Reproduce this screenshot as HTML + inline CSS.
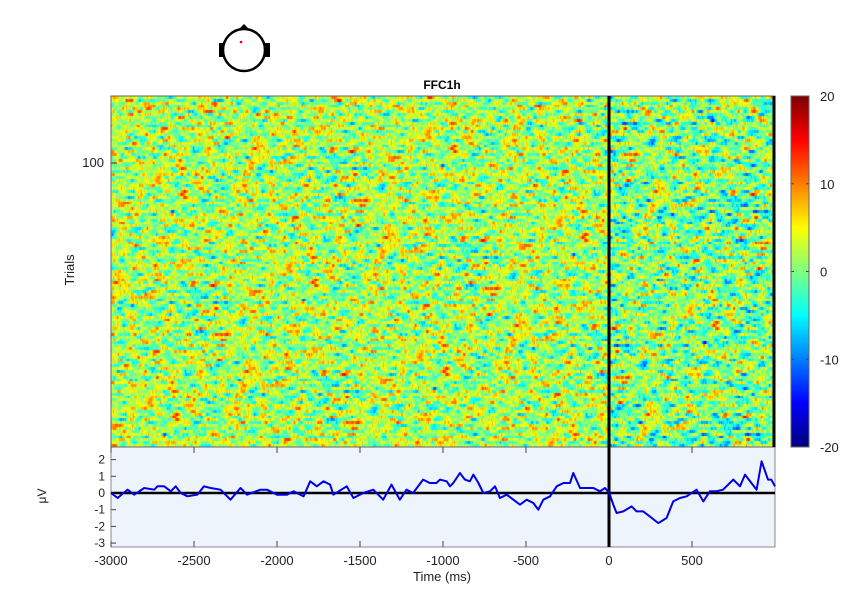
<!DOCTYPE html>
<html><head><meta charset="utf-8">
<style>
body{margin:0;background:#fff;width:856px;height:616px;overflow:hidden;font-family:"Liberation Sans",sans-serif;}
#wrap{position:relative;width:856px;height:616px;}
canvas{position:absolute;}
</style></head>
<body>
<div id="wrap">
<canvas id="heat" width="664" height="351" style="left:111px;top:96px"></canvas>
<canvas id="cbar" width="18" height="351" style="left:791px;top:96px"></canvas>
<svg id="svg" width="856" height="616" style="position:absolute;left:0;top:0"></svg>
</div>
<script>
// ERP average (µV) at times (ms)
const erpTimes=[-3000,-2960,-2900,-2860,-2800,-2740,-2720,-2680,-2640,-2610,-2580,-2540,-2480,-2440,-2400,-2340,-2280,-2220,-2180,-2100,-2060,-2000,-1940,-1900,-1840,-1800,-1760,-1720,-1680,-1660,-1580,-1540,-1480,-1420,-1360,-1310,-1260,-1220,-1180,-1120,-1080,-1040,-1018,-978,-958,-938,-898,-868,-838,-817,-787,-757,-717,-687,-657,-616,-576,-536,-496,-456,-426,-396,-355,-315,-275,-235,-215,-175,-134,-94,-54,-24,2,26,46,86,136,166,206,246,297,347,387,428,468,528,568,608,644,687,749,789,819,858,889,919,958,978,1000];
const erpValues=[0,-0.3,0.2,-0.1,0.3,0.2,0.4,0.4,0.1,0.4,0,-0.2,-0.1,0.4,0.3,0.2,-0.4,0.3,-0.1,0.2,0.2,-0.1,-0.1,0.1,-0.2,0.7,0.4,0.7,0.5,-0.1,0.4,-0.3,0,0.2,-0.4,0.5,-0.4,0.2,0,0.8,0.6,0.6,0.8,0.7,0.4,0.6,1.2,0.8,0.7,1.1,0.6,0,0.1,0.4,-0.3,-0.1,-0.4,-0.7,-0.4,-0.6,-1.0,-0.4,-0.2,0.4,0.6,0.6,1.2,0.3,0.3,0.3,0.1,0.3,0,-0.7,-1.2,-1.1,-0.8,-1.1,-1.1,-1.4,-1.8,-1.5,-0.5,-0.3,-0.2,0.2,-0.5,0.1,0.1,0.2,0.8,0.4,1.1,0.6,0.2,1.9,0.8,0.8,0.4];
const xTicks=[-3000,-2500,-2000,-1500,-1000,-500,0,500];
const erpYTicks=[-3,-2,-1,0,1,2];
const trialTicks=[100];
const cbarTicks=[-20,-10,0,10,20];
const nTrials=123;

const X0=111,X1=775,T0=-3000,T1=1000;
const xs=t=>X0+(t-T0)/(T1-T0)*(X1-X0);
const ey=v=>493-v*16.7;
const ty=n=>447-(n-0.5)*(351/nTrials);
const cy=v=>447-(v+20)/40*351;

function jet(v){
  const f=x=>Math.max(0,Math.min(1,x));
  const r=f(1.5-Math.abs(4*v-3)),g=f(1.5-Math.abs(4*v-2)),b=f(1.5-Math.abs(4*v-1));
  return [r*255|0,g*255|0,b*255|0];
}
// heatmap texture (deterministic)
let seed=12345;function rnd(){seed=(seed*1103515245+12345)&0x7fffffff;return seed/0x7fffffff;}
(function(){
  const c=document.getElementById('heat').getContext('2d');
  const W=664,H=351,img=c.createImageData(W,H);
  const rowH=H/nTrials;
  const K=7;
  for(let r=0;r<nTrials;r++){
    let raw=[];for(let i=0;i<W+K;i++)raw.push(rnd()*2-1);
    let sm=[];for(let i=0;i<W;i++){let s=0;for(let k=0;k<K;k++)s+=raw[i+k];sm.push(s/K/(0.577/Math.sqrt(K)));}
    const y0=Math.round(r*rowH),y1=Math.round((r+1)*rowH);
    for(let x=0;x<W;x++){
      const post=x>498;
      let v=(post?0.5:2)+sm[x]*(post?4.6:4.2);
      const col=jet(Math.max(0,Math.min(1,(v+20)/40)));
      for(let y=y0;y<y1&&y<H;y++){const i=(y*W+x)*4;img.data[i]=col[0];img.data[i+1]=col[1];img.data[i+2]=col[2];img.data[i+3]=255;}
    }
  }
  c.putImageData(img,0,0);
  const cb=document.getElementById('cbar').getContext('2d');
  for(let y=0;y<351;y++){const col=jet(1-y/350);cb.fillStyle=`rgb(${col})`;cb.fillRect(0,y,18,1);}
})();

const svg=document.getElementById('svg');const NS='http://www.w3.org/2000/svg';
function el(tag,a,txt){const e=document.createElementNS(NS,tag);for(const k in a)e.setAttribute(k,a[k]);if(txt!==undefined)e.textContent=txt;svg.appendChild(e);return e;}
let e;
e=el('rect',{x:X0,y:447,width:X1-X0,height:100,fill:'#eef4fc',stroke:'#888','stroke-width':1});

e=el('rect',{x:X0,y:96,width:X1-X0,height:351,fill:'none',stroke:'#666','stroke-width':1});

xTicks.forEach(t=>{
  e=el('line',{x1:xs(t),x2:xs(t),y1:547,y2:541,stroke:'#444'});
  
  e=el('line',{x1:xs(t),x2:xs(t),y1:447,y2:453,stroke:'#444'});
  
  e=el('text',{x:xs(t),y:565,'font-size':13,'text-anchor':'middle',fill:'#222'},t);
  
});
erpYTicks.forEach(v=>{
  e=el('line',{x1:X0,x2:X0+5,y1:ey(v),y2:ey(v),stroke:'#444'});
  
  e=el('text',{x:105,y:ey(v)+4,'font-size':12,'text-anchor':'end',fill:'#222'},v);
  
});
trialTicks.forEach(n=>{
  e=el('line',{x1:X0,x2:X0+6,y1:ty(n),y2:ty(n),stroke:'#444'});
  
  e=el('text',{x:104,y:ty(n)+4,'font-size':13,'text-anchor':'end',fill:'#222'},n);
  
});
cbarTicks.forEach(v=>{
  e=el('line',{x1:791,x2:794,y1:cy(v),y2:cy(v),stroke:'#444'});
  
  e=el('line',{x1:806,x2:809,y1:cy(v),y2:cy(v),stroke:'#444'});
  
  e=el('text',{x:820,y:cy(v)+5,'font-size':13,fill:'#222'},v);
  
});
e=el('rect',{x:791,y:96,width:18,height:351,fill:'none',stroke:'#666'});

e=el('line',{x1:X0,x2:X1,y1:ey(0),y2:ey(0),stroke:'#000','stroke-width':2.5});

e=el('line',{x1:xs(0),x2:xs(0),y1:96,y2:547,stroke:'#000','stroke-width':3});

e=el('line',{x1:774,x2:774,y1:96,y2:447,stroke:'#000','stroke-width':3});

const pts=erpTimes.map((t,i)=>xs(t).toFixed(1)+','+ey(erpValues[i]).toFixed(1)).join(' ');
e=el('polyline',{points:pts,fill:'none',stroke:'#0000e6','stroke-width':2,'stroke-linejoin':'round'});

e=el('text',{x:442,y:89,'font-size':12,'font-weight':'bold','text-anchor':'middle',fill:'#000'},'FFC1h');

e=el('text',{x:442,y:581,'font-size':13,'text-anchor':'middle',fill:'#222'},'Time (ms)');

e=el('text',{x:0,y:0,'font-size':13,'text-anchor':'middle',fill:'#222',transform:'translate(74,270) rotate(-90)'},'Trials');

e=el('text',{x:0,y:0,'font-size':12,'text-anchor':'middle',fill:'#222',transform:'translate(46,496) rotate(-90)'},'μV');

e=el('rect',{x:219,y:43,width:5,height:14,fill:'#000'});

e=el('rect',{x:265,y:43,width:5,height:14,fill:'#000'});

e=el('polygon',{points:'240,28 244,24 248,28',fill:'#000'});

e=el('circle',{cx:244,cy:50,r:21,fill:'#fff',stroke:'#000','stroke-width':2.5});

e=el('circle',{cx:241,cy:42,r:1.3,fill:'#e00'});

</script>
</body></html>
